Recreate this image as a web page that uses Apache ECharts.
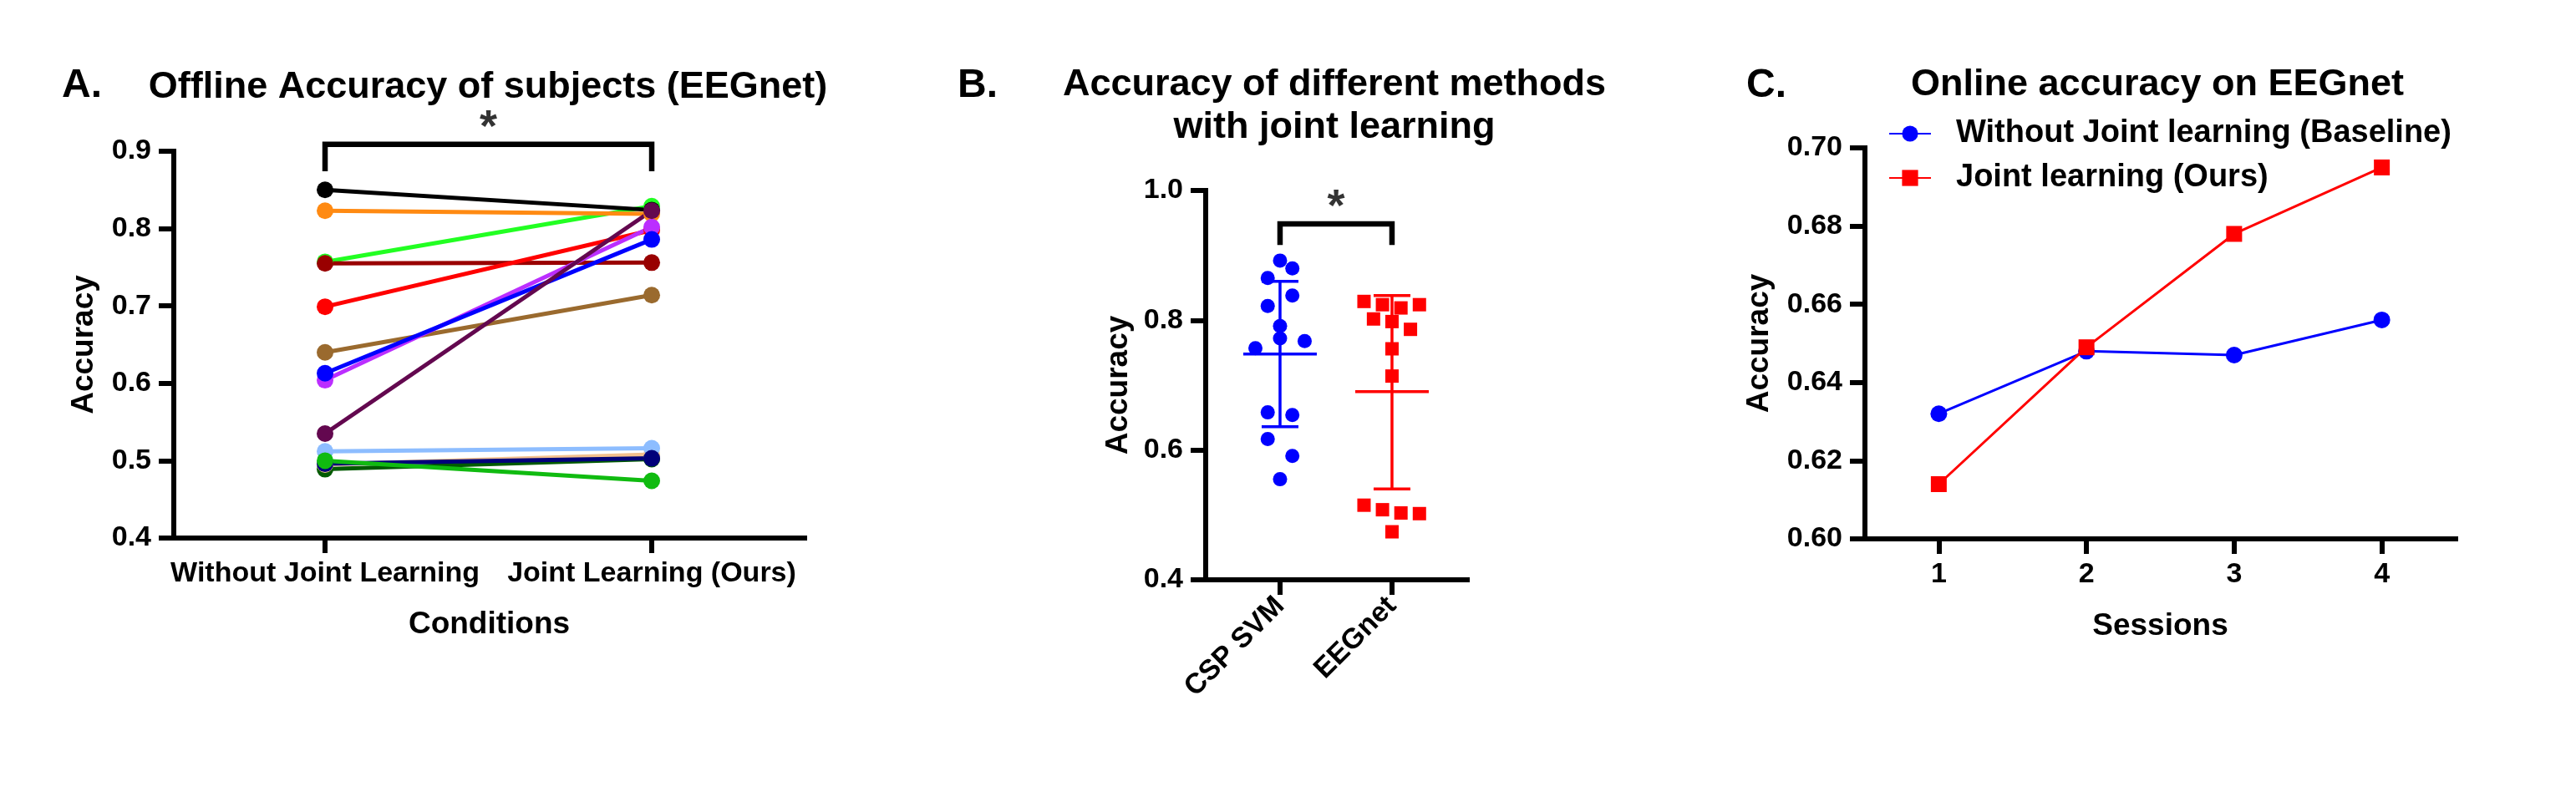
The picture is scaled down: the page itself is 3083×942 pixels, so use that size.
<!DOCTYPE html>
<html>
<head>
<meta charset="utf-8">
<title>EEGnet joint learning accuracy</title>
<script src="https://cdn.jsdelivr.net/npm/echarts@6.0.0/dist/echarts.min.js"></script>
<style>
  html, body { margin: 0; padding: 0; background: #fff; }
  #chart { width: 3083px; height: 942px; }
</style>
</head>
<body>
<div id="chart"></div>
<script>
const FONT = '"Liberation Sans", Arial, Helvetica, sans-serif';

// A. offline accuracy, one line per subject (drawn bottom to top)
const CONDITIONS = ['Without Joint Learning', 'Joint Learning (Ours)'];
const SUBJECT_COLORS = [
  '#22ff22', '#000000', '#ff8a12', '#990000', '#ff0000', '#9a6a2e', '#bb2eff',
  '#0000ff', '#63084f', '#005a00', '#f2c08e', '#8dbdff', '#00007a', '#10bb10'
];
const ACC_WITHOUT_JOINT = [0.757, 0.850, 0.823, 0.755, 0.699, 0.640, 0.604, 0.613, 0.535, 0.489, 0.495, 0.512, 0.496, 0.500];
const ACC_JOINT = [0.829, 0.824, 0.819, 0.756, 0.798, 0.714, 0.802, 0.786, 0.823, 0.502, 0.508, 0.516, 0.503, 0.474];
const A_Y_TICKS = [0.4, 0.5, 0.6, 0.7, 0.8, 0.9];
const SIG_A = [0.874, 0.909]; // bracket leg end, bracket top

// B. accuracy of both methods with joint learning
const METHODS = ['CSP SVM', 'EEGnet'];
const CSP_SVM_ACC = [0.892, 0.880, 0.865, 0.838, 0.822, 0.791, 0.772, 0.768, 0.757, 0.658, 0.654, 0.617, 0.591, 0.555];
const CSP_SVM_JITTER = [0, 0.11, -0.11, 0.11, -0.11, 0, 0, 0.22, -0.22, -0.11, 0.11, -0.11, 0.11, 0];
const EEGNET_ACC = [0.829, 0.824, 0.819, 0.824, 0.802, 0.798, 0.786, 0.756, 0.714, 0.515, 0.508, 0.503, 0.502, 0.474];
const EEGNET_JITTER = [-0.25, -0.085, 0.08, 0.245, -0.165, 0, 0.165, 0, 0, -0.25, -0.085, 0.08, 0.245, 0];
const METHOD_MEAN = [0.748, 0.690];
const METHOD_SD_LOW = [0.636, 0.540];
const METHOD_SD_HIGH = [0.860, 0.838];
const METHOD_COLORS = ['#0000ff', '#ff0000'];
const B_Y_TICKS = [0.4, 0.6, 0.8, 1.0];
const SIG_B = [0.916, 0.9485];

// C. online accuracy per session
const SESSIONS = ['1', '2', '3', '4'];
const ONLINE_BASELINE = [0.632, 0.648, 0.647, 0.656];
const ONLINE_OURS = [0.614, 0.649, 0.678, 0.695];
const C_Y_TICKS = [0.60, 0.62, 0.64, 0.66, 0.68, 0.70];

const chart = echarts.init(document.getElementById('chart'));

const textBold = { fontFamily: FONT, fontWeight: 'bold', color: '#000' };
const axisLine = { show: true, onZero: false, lineStyle: { color: '#000', width: 6, cap: 'square' } };
const axisTick = { show: true, inside: false, length: 18, lineStyle: { color: '#000', width: 6 } };

function yAxisFor(gridIndex, ticks, digits, nameGap) {
  return {
    type: 'value',
    gridIndex,
    min: ticks[0],
    max: ticks[ticks.length - 1],
    interval: +(ticks[1] - ticks[0]).toFixed(6),
    name: 'Accuracy',
    nameLocation: 'middle',
    nameGap,
    nameTextStyle: { ...textBold, fontSize: 37, verticalAlign: 'middle' },
    axisLine,
    axisTick,
    splitLine: { show: false },
    axisLabel: { ...textBold, fontSize: 34, margin: 27, formatter: (v) => v.toFixed(digits) }
  };
}

function bracket(xIndex, levels) {
  return {
    type: 'line',
    xAxisIndex: xIndex,
    yAxisIndex: xIndex,
    clip: false,
    symbol: 'none',
    silent: true,
    lineStyle: { color: '#000', width: 6.5, join: 'miter', cap: 'butt' },
    data: [[0, levels[0]], [0, levels[1]], [1, levels[1]], [1, levels[0]]]
  };
}

function star(xIndex, levels) {
  return {
    type: 'scatter',
    xAxisIndex: xIndex,
    yAxisIndex: xIndex,
    clip: false,
    symbolSize: 0,
    silent: true,
    label: {
      show: true, position: 'top', distance: -6, formatter: '*',
      ...textBold, fontSize: 54, lineHeight: 50
    },
    data: [[0.5, levels[1]]]
  };
}

const subjectSeries = SUBJECT_COLORS.map((color, i) => ({
  type: 'line',
  xAxisIndex: 0,
  yAxisIndex: 0,
  symbol: 'circle',
  symbolSize: 20,
  color,
  lineStyle: { color, width: 5 },
  itemStyle: { color, opacity: 1 },
  data: [[0, ACC_WITHOUT_JOINT[i]], [1, ACC_JOINT[i]]]
}));

const option = {
  animation: false,
  backgroundColor: '#fff',
  title: [
    { text: 'A.', left: 74, top: 79, padding: 0, textStyle: { ...textBold, fontSize: 48 } },
    { text: 'Offline Accuracy of subjects (EEGnet)', left: 584, top: 82, padding: 0, textAlign: 'center',
      textStyle: { ...textBold, fontSize: 45 } },
    { text: 'B.', left: 1146, top: 79, padding: 0, textStyle: { ...textBold, fontSize: 48 } },
    { text: 'Accuracy of different methods\nwith joint learning', left: 1597, top: 76, padding: 0, textAlign: 'center',
      textStyle: { ...textBold, fontSize: 45, lineHeight: 51 } },
    { text: 'C.', left: 2090, top: 79, padding: 0, textStyle: { ...textBold, fontSize: 48 } },
    { text: 'Online accuracy on EEGnet', left: 2582, top: 79, padding: 0, textAlign: 'center',
      textStyle: { ...textBold, fontSize: 45 } }
  ],
  legend: {
    data: ['Without Joint learning (Baseline)', 'Joint learning (Ours)'],
    orient: 'vertical',
    left: 2260,
    top: 140,
    padding: 0,
    itemWidth: 50,
    itemHeight: 24,
    itemGap: 13,
    textStyle: { ...textBold, fontSize: 38, lineHeight: 40, padding: [0, 0, 0, 25] }
  },
  grid: [
    { left: 208, top: 181, width: 755, height: 463, containLabel: false, outerBoundsMode: 'none' },
    { left: 1443, top: 228, width: 313, height: 466, containLabel: false, outerBoundsMode: 'none' },
    { left: 2232, top: 177, width: 707, height: 468, containLabel: false, outerBoundsMode: 'none' }
  ],
  xAxis: [
    {
      type: 'value', gridIndex: 0, min: -0.463, max: 1.468,
      name: 'Conditions', nameLocation: 'middle', nameGap: 104,
      nameTextStyle: { ...textBold, fontSize: 37, verticalAlign: 'middle' },
      axisLine, axisTick: { ...axisTick, customValues: [0, 1] },
      splitLine: { show: false },
      axisLabel: { ...textBold, fontSize: 34, margin: 26, customValues: [0, 1], formatter: (v) => CONDITIONS[Math.round(v)] }
    },
    {
      type: 'value', gridIndex: 1, min: -0.664, max: 1.672,
      axisLine, axisTick: { ...axisTick, customValues: [0, 1] },
      splitLine: { show: false },
      axisLabel: { ...textBold, fontSize: 34, margin: 26, rotate: 45, customValues: [0, 1], formatter: (v) => METHODS[Math.round(v)] }
    },
    {
      type: 'category', gridIndex: 2, data: SESSIONS, boundaryGap: true,
      name: 'Sessions', nameLocation: 'middle', nameGap: 105,
      nameTextStyle: { ...textBold, fontSize: 37, verticalAlign: 'middle' },
      axisLine, axisTick: { ...axisTick, alignWithLabel: true },
      splitLine: { show: false },
      axisLabel: { ...textBold, fontSize: 34, margin: 26 }
    }
  ],
  yAxis: [
    yAxisFor(0, A_Y_TICKS, 1, 107),
    yAxisFor(1, B_Y_TICKS, 1, 104),
    yAxisFor(2, C_Y_TICKS, 2, 126)
  ],
  series: [
    ...subjectSeries,
    bracket(0, SIG_A),
    star(0, SIG_A),

    {
      type: 'scatter', xAxisIndex: 1, yAxisIndex: 1,
      symbol: 'circle', symbolSize: 17, itemStyle: { color: METHOD_COLORS[0], opacity: 1 },
      data: CSP_SVM_ACC.map((v, i) => [0 + CSP_SVM_JITTER[i], v])
    },
    {
      type: 'scatter', xAxisIndex: 1, yAxisIndex: 1,
      symbol: 'rect', symbolSize: 16, itemStyle: { color: METHOD_COLORS[1], opacity: 1 },
      data: EEGNET_ACC.map((v, i) => [1 + EEGNET_JITTER[i], v])
    },
    {
      // mean with SD error bars
      type: 'custom', xAxisIndex: 1, yAxisIndex: 1,
      encode: { x: 0, y: 1 },
      data: METHOD_MEAN.map((m, i) => [i, m, METHOD_SD_LOW[i], METHOD_SD_HIGH[i]]),
      renderItem(params, api) {
        const x = api.value(0);
        const top = api.coord([x, api.value(3)]);
        const bottom = api.coord([x, api.value(2)]);
        const mid = api.coord([x, api.value(1)]);
        const style = { stroke: METHOD_COLORS[params.dataIndex], lineWidth: 3.5 };
        const seg = (x1, y1, x2, y2) => ({ type: 'line', shape: { x1, y1, x2, y2 }, style });
        return {
          type: 'group',
          children: [
            seg(top[0], top[1], bottom[0], bottom[1]),
            seg(top[0] - 22, top[1], top[0] + 22, top[1]),
            seg(bottom[0] - 22, bottom[1], bottom[0] + 22, bottom[1]),
            seg(mid[0] - 44, mid[1], mid[0] + 44, mid[1])
          ]
        };
      }
    },
    bracket(1, SIG_B),
    star(1, SIG_B),

    {
      name: 'Without Joint learning (Baseline)',
      type: 'line', xAxisIndex: 2, yAxisIndex: 2,
      symbol: 'circle', symbolSize: 20,
      color: '#0000ff',
      lineStyle: { color: '#0000ff', width: 3 },
      itemStyle: { color: '#0000ff', opacity: 1 },
      data: ONLINE_BASELINE
    },
    {
      name: 'Joint learning (Ours)',
      type: 'line', xAxisIndex: 2, yAxisIndex: 2,
      symbol: 'rect', symbolSize: 19,
      color: '#ff0000',
      lineStyle: { color: '#ff0000', width: 3 },
      itemStyle: { color: '#ff0000', opacity: 1 },
      data: ONLINE_OURS
    }
  ]
};

chart.setOption(option);
</script>
</body>
</html>
